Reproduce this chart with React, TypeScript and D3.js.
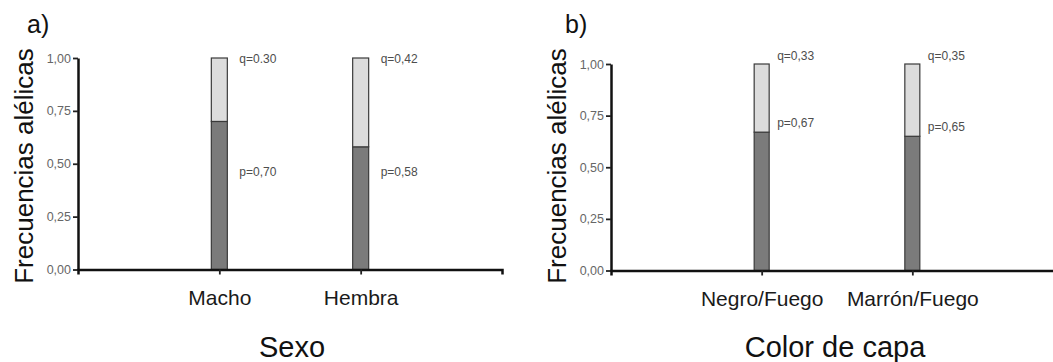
import React, { useEffect, useRef } from 'react';
import * as d3 from 'd3';

// datos: frecuencias alélicas por sexo y por color de capa
const sexoCategorias = ['Macho', 'Hembra'];
const sexoP = [0.7, 0.58];
const sexoQ = [0.3, 0.42];
const sexoPEtiquetas = ['p=0,70', 'p=0,58'];
const sexoQEtiquetas = ['q=0.30', 'q=0,42'];

const capaCategorias = ['Negro/Fuego', 'Marrón/Fuego'];
const capaP = [0.67, 0.65];
const capaQ = [0.33, 0.35];
const capaPEtiquetas = ['p=0,67', 'p=0,65'];
const capaQEtiquetas = ['q=0,33', 'q=0,35'];

const yTicks = [0, 0.25, 0.5, 0.75, 1];

const FONT = '"Liberation Sans", Arial, Helvetica, sans-serif';

const App = () => {
  const svgRef = useRef<SVGSVGElement>(null);

  useEffect(() => {
    const svg = d3.select(svgRef.current);
    svg.selectAll('*').remove();

    const paneles = [
      {
        letra: 'a)', letraX: 27,
        titulo: 'Sexo', tituloX: 292,
        ejeYX: 33,
        cats: sexoCategorias, p: sexoP, q: sexoQ, pLab: sexoPEtiquetas, qLab: sexoQEtiquetas,
        xRange: [78, 502], yRange: [269.5, 58], barW: 16,
        labDx: 12, qDy: 1, pFijo: 0.46, pDy: 0,
      },
      {
        letra: 'b)', letraX: 565,
        titulo: 'Color de capa', tituloX: 835,
        ejeYX: 566,
        cats: capaCategorias, p: capaP, q: capaQ, pLab: capaPEtiquetas, qLab: capaQEtiquetas,
        xRange: [611, 1063], yRange: [270.5, 64], barW: 15,
        labDx: 8, qDy: -8, pFijo: null, pDy: -9,
      },
    ];

    const fmt = (v: number) => d3.format('.2f')(v).replace('.', ',');

    paneles.forEach(pn => {
      const g = svg.append('g');

      const x = d3.scalePoint().domain(pn.cats).range(pn.xRange as [number, number]).padding(1);
      const y = d3.scaleLinear().domain([0, 1]).range(pn.yRange as [number, number]);

      const filas = pn.cats.map((c, i) => ({ cat: c, p: pn.p[i], q: pn.q[i] }));
      const series = d3.stack<any>().keys(['p', 'q'])(filas);
      const colores: Record<string, string> = { p: '#7b7b7b', q: '#dcdcdc' };

      // barras apiladas
      g.selectAll('g.serie')
        .data(series)
        .join('g')
        .attr('fill', d => colores[d.key])
        .selectAll('rect')
        .data(d => d)
        .join('rect')
        .attr('x', d => x(d.data.cat)! - pn.barW / 2)
        .attr('y', d => y(d[1]))
        .attr('width', pn.barW)
        .attr('height', d => y(d[0]) - y(d[1]))
        .attr('stroke', '#3a3a3a')
        .attr('stroke-width', 1.2);

      // eje Y
      const ejeY = g.append('g')
        .attr('transform', `translate(${pn.xRange[0]},0)`)
        .call(d3.axisLeft(y).tickValues(yTicks).tickFormat(d => fmt(+d)).tickSize(5).tickSizeOuter(0).tickPadding(2));
      ejeY.select('.domain').attr('stroke-width', 2.5).attr('stroke', '#111');
      ejeY.selectAll('.tick line').attr('stroke-width', 1.8).attr('stroke', '#222');
      ejeY.selectAll('.tick text')
        .attr('font-family', FONT).attr('font-size', 12.5).attr('fill', '#666');

      // eje X
      const ejeX = g.append('g')
        .attr('transform', `translate(0,${pn.yRange[0]})`)
        .call(d3.axisBottom(x).tickSize(5).tickSizeOuter(5).tickPadding(16));
      ejeX.select('.domain').attr('stroke-width', 2.5).attr('stroke', '#111');
      ejeX.selectAll('.tick line').attr('stroke-width', 1.8).attr('stroke', '#222');
      ejeX.selectAll('.tick text')
        .attr('font-family', FONT).attr('font-size', 21).attr('fill', '#1a1a1a');

      // etiquetas p y q
      filas.forEach((f, i) => {
        const lx = x(f.cat)! + pn.barW / 2 + pn.labDx;
        g.append('text')
          .attr('x', lx)
          .attr('y', y(1) + pn.qDy)
          .attr('dy', '0.35em')
          .attr('font-family', FONT).attr('font-size', 12).attr('fill', '#4d4d4d')
          .text(pn.qLab[i]);
        g.append('text')
          .attr('x', lx)
          .attr('y', pn.pFijo !== null ? y(pn.pFijo) : y(f.p) + pn.pDy)
          .attr('dy', '0.35em')
          .attr('font-family', FONT).attr('font-size', 12).attr('fill', '#4d4d4d')
          .text(pn.pLab[i]);
      });

      // títulos
      g.append('text')
        .attr('x', pn.letraX).attr('y', 33)
        .attr('font-family', FONT).attr('font-size', 25).attr('fill', '#111')
        .text(pn.letra);
      g.append('text')
        .attr('transform', `translate(${pn.ejeYX},166) rotate(-90)`)
        .attr('text-anchor', 'middle')
        .attr('font-family', FONT).attr('font-size', 26).attr('fill', '#111')
        .text('Frecuencias alélicas');
      g.append('text')
        .attr('x', pn.tituloX).attr('y', 357)
        .attr('text-anchor', 'middle')
        .attr('font-family', FONT).attr('font-size', 29).attr('fill', '#111')
        .text(pn.titulo);
    });
  }, []);

  return (
    <svg ref={svgRef} width={1053} height={362}
      style={{ position: 'absolute', left: 0, top: 0, background: '#fff' }}></svg>
  );
};

export default App;
